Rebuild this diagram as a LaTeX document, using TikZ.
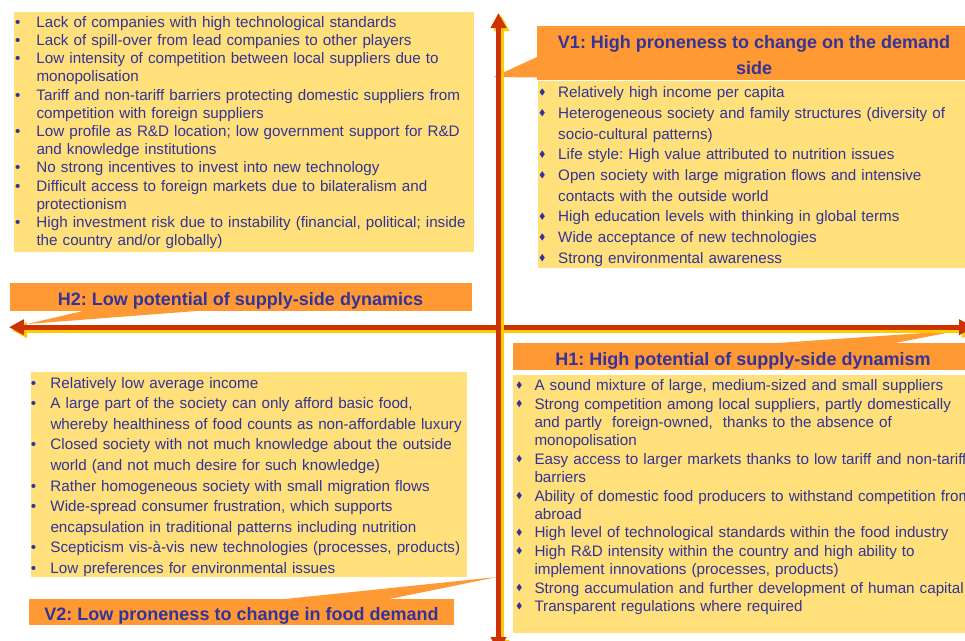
\documentclass[tikz,border=0pt]{standalone}
\usepackage{fontspec}
\setmainfont{Liberation Sans}
\usepackage{graphicx}
\usetikzlibrary{arrows.meta}
\frenchspacing
\definecolor{boxyellow}{RGB}{255,224,122}
\definecolor{headorange}{RGB}{255,153,51}
\definecolor{navy}{RGB}{51,51,153}
\definecolor{axisred}{RGB}{204,51,0}
\definecolor{axisyellow}{RGB}{255,204,0}
\newcommand{\bdot}[1]{\leavevmode\llap{\textbullet\hspace{#1}}}
\newcommand{\dshape}{\raisebox{2pt}{\scalebox{0.7}[1]{\rotatebox{45}{\rule{5.2pt}{5.2pt}}}}}
\newcommand{\bdia}[1]{\leavevmode\llap{\makebox[0pt]{\dshape}\hspace{#1}}}
\tikzset{
  ybox/.style={fill=boxyellow, draw=none, inner sep=0pt, outer sep=0pt, anchor=north west},
  obox/.style={fill=headorange, draw=none, inner sep=0pt, outer sep=0pt, anchor=north west},
  listtext/.style={anchor=base west, inner sep=0pt, align=left, text width=470pt, text=navy},
  headtext/.style={anchor=base, inner sep=0pt, text=navy, font=\fontsize{18}{25.7}\selectfont\bfseries\frenchspacing},
  axisline/.style={line width=4.6pt, arrows={Triangle[length=15pt,width=15pt]-Triangle[length=15pt,width=15pt]}},
}
\begin{document}
\begin{tikzpicture}[x=1pt,y=-1pt]
\useasboundingbox (0,0) rectangle (965,640);
% boxes
\node[ybox, minimum width=460, minimum height=240] (tlbox) at (14,12) {};
\node[obox, minimum width=435, minimum height=54] (v1head) at (537,26) {};
\node[ybox, minimum width=434, minimum height=187] (v1box) at (538,81) {};
\node[obox, minimum width=462, minimum height=27.4] (h2head) at (10,283.3) {};
\node[obox, minimum width=460, minimum height=27.3] (h1head) at (513,342.7) {};
\node[ybox, minimum width=459, minimum height=258.5] (h1box) at (513,374.5) {};
\node[ybox, minimum width=436, minimum height=205] (blbox) at (31,372) {};
\node[obox, minimum width=425, minimum height=26] (v2head) at (29,599) {};
% pointer tips
\coordinate (v1tip) at (493.5,77);
\coordinate (h2tip) at (27,324);
\coordinate (h1tip) at (958,330.7);
\coordinate (v2tip) at (497,577);
\fill[headorange] (537,57) -- (v1tip) -- (537,77.5) -- cycle;
\fill[headorange] (85,310.5) -- (h2tip) -- (203,310.5) -- cycle;
\fill[headorange] (777,343) -- (h1tip) -- (895,343) -- cycle;
\fill[headorange] (280,599.5) -- (v2tip) -- (387,599.5) -- cycle;
% axes
\coordinate (hL) at (9,327.2);
\coordinate (hR) at (974,327.2);
\coordinate (vT) at (498.5,13);
\coordinate (vB) at (498.5,652);
\draw[axisline, axisyellow, transform canvas={shift={(3,3)}}] (hL) -- (hR);
\draw[axisline, axisred] (hL) -- (hR);
\draw[axisline, axisyellow, line width=5pt, transform canvas={shift={(3,3)}}] (vB) -- (vT);
\draw[axisline, axisred, line width=5pt] (vB) -- (vT);
% headers
\node[headtext, align=center] (v1title) at (754,74) {V1: High proneness to change on the demand\\side};
\node[headtext] (h2title) at (240.5,305.7) {H2: Low potential of supply-side dynamics};
\node[headtext] (h1title) at (743,365) {H1: High potential of supply-side dynamism};
\node[headtext] (v2title) at (241.5,620.7) {V2: Low proneness to change in food demand};
% lists
\node[listtext, font=\fontsize{15.2}{18.2}\selectfont\frenchspacing] (tltext) at (36.3,27.3) {%
\bdot{16.1pt}Lack of companies with high technological standards\\
\bdot{16.1pt}Lack of spill-over from lead companies to other players\\
\bdot{16.1pt}Low intensity of competition between local suppliers due to\\
monopolisation\\
\bdot{16.1pt}Tariff and non-tariff barriers protecting domestic suppliers from\\
competition with foreign suppliers\\
\bdot{16.1pt}Low profile as R\&D location; low government support for R\&D\\
and knowledge institutions\\
\bdot{16.1pt}No strong incentives to invest into new technology\\
\bdot{16.1pt}Difficult access to foreign markets due to bilateralism and\\
protectionism\\
\bdot{16.1pt}High investment risk due to instability (financial, political; inside\\
the country and/or globally)};
\node[listtext, font=\fontsize{15.2}{20.7}\selectfont\frenchspacing] (v1text) at (558,97.7) {%
\bdia{16pt}Relatively high income per capita\\
\bdia{16pt}Heterogeneous society and family structures (diversity of\\
socio-cultural patterns)\\
\bdia{16pt}Life style: High value attributed to nutrition issues\\
\bdia{16pt}Open society with large migration flows and intensive\\
contacts with the outside world\\
\bdia{16pt}High education levels with thinking in global terms\\
\bdia{16pt}Wide acceptance of new technologies\\
\bdia{16pt}Strong environmental awareness};
\node[listtext, font=\fontsize{15.2}{18.4}\selectfont\frenchspacing] (h1text) at (534.3,390.7) {%
\bdia{15.3pt}A sound mixture of large, medium-sized and small suppliers\\
\bdia{15.3pt}Strong competition among local suppliers, partly domestically\\
and partly\ \ foreign-owned,\ \ thanks to the absence of\\
monopolisation\\
\bdia{15.3pt}Easy access to larger markets thanks to low tariff and non-tariff\\
barriers\\
\bdia{15.3pt}Ability of domestic food producers to withstand competition from\\
abroad\\
\bdia{15.3pt}High level of technological standards within the food industry\\
\bdia{15.3pt}High R\&D intensity within the country and high ability to\\
implement innovations (processes, products)\\
\bdia{15.3pt}Strong accumulation and further development of human capital\\
\bdia{15.3pt}Transparent regulations where required};
\node[listtext, font=\fontsize{15.2}{20.55}\selectfont\frenchspacing] (bltext) at (50.3,388.3) {%
\bdot{14.3pt}Relatively low average income\\
\bdot{14.3pt}A large part of the society can only afford basic food,\\
whereby healthiness of food counts as non-affordable luxury\\
\bdot{14.3pt}Closed society with not much knowledge about the outside\\
world (and not much desire for such knowledge)\\
\bdot{14.3pt}Rather homogeneous society with small migration flows\\
\bdot{14.3pt}Wide-spread consumer frustration, which supports\\
encapsulation in traditional patterns including nutrition\\
\bdot{14.3pt}Scepticism vis-à-vis new technologies (processes, products)\\
\bdot{14.3pt}Low preferences for environmental issues};
\end{tikzpicture}
\end{document}
